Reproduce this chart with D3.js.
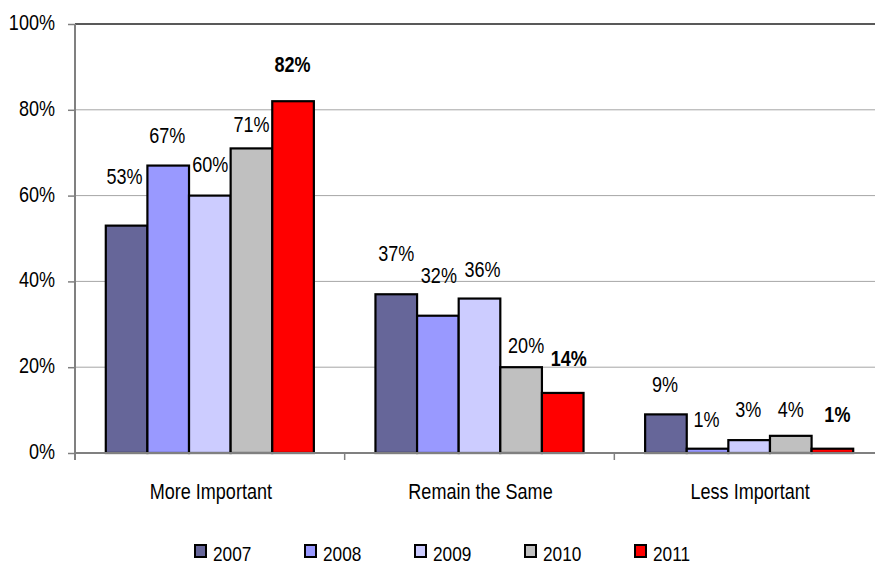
<!DOCTYPE html>
<html>
<head>
<meta charset="utf-8">
<script src="https://cdn.jsdelivr.net/npm/d3@7/dist/d3.min.js"></script>
<style>
  html, body { margin: 0; padding: 0; background: #fff; }
  svg { display: block; }
  text { font-family: "Liberation Sans", Arial, sans-serif; fill: #000; }
</style>
</head>
<body>
<svg id="chart" width="875" height="564"></svg>
<script>
// Survey answers by year (share of respondents, %)
const categories = ["More Important", "Remain the Same", "Less Important"];
const years = ["2007", "2008", "2009", "2010", "2011"];
const values2007 = [53, 37, 9];
const values2008 = [67, 32, 1];
const values2009 = [60, 36, 3];
const values2010 = [71, 20, 4];
const values2011 = [82, 14, 1];
const yTicks = [0, 20, 40, 60, 80, 100];

const seriesValues = [values2007, values2008, values2009, values2010, values2011];
const colors = ["#666699", "#9999FF", "#CCCCFF", "#C0C0C0", "#FF0000"];
const boldYear = "2011";

// Hand-placed label nudges [dx, gap above bar top], per category then per year
const labelNudge = [
  [[-2, 42], [-1, 22.5], [0.5, 24], [0, 16], [-0.5, 29]],
  [[0, 33], [1, 33], [3, 22], [5, 14], [6, 27]],
  [[-1, 22], [-1, 22], [-1, 23], [0, 19], [5, 27]]
];

// Narrow look: regular sans squeezed horizontally
const NARROW = 0.82;
const FONT_SIZE = 22;
function place(sel, fx, fy) {
  sel.attr("transform", (d, i) => `translate(${fx(d, i)},${fy(d, i)}) scale(${NARROW},1)`)
     .attr("font-size", FONT_SIZE);
}

const svg = d3.select("#chart");
const margin = { left: 75, top: 24 };
const plotBottom = 453;
const plotRight = 884;

const x0 = d3.scaleBand().domain(categories).range([margin.left, plotRight]).padding(0);
const x1 = d3.scaleBand().domain(years).range([0, x0.bandwidth()]).paddingInner(0).paddingOuter(0.74);
const y = d3.scaleLinear().domain([0, 100]).range([plotBottom, margin.top]);

// Gridlines
svg.append("g")
  .selectAll("line")
  .data(yTicks.filter(t => t > 0))
  .join("line")
  .attr("x1", margin.left).attr("x2", 875)
  .attr("y1", d => y(d)).attr("y2", d => y(d))
  .attr("stroke", d => d === 100 ? "#222" : "#a6a6a6")
  .attr("stroke-width", d => d === 100 ? 1.5 : 1);

// Y axis
const yAxis = svg.append("g")
  .attr("transform", `translate(${margin.left},0)`)
  .call(d3.axisLeft(y).tickValues(yTicks).tickSize(7).tickPadding(20).tickFormat(d => d + "%"));
yAxis.select(".domain").attr("stroke", "#808080").attr("stroke-width", 2)
  .attr("d", `M0,${y(100)}V${plotBottom + 7}`);
yAxis.selectAll(".tick line").attr("stroke", "#808080").attr("stroke-width", 1.5);
yAxis.selectAll(".tick text")
  .attr("x", null).attr("dy", null)
  .attr("fill", "#111")
  .call(place, () => -20, () => 5.5);

// Bars
const groups = svg.append("g")
  .selectAll("g")
  .data(categories)
  .join("g")
  .attr("transform", d => `translate(${x0(d)},0)`);

const cells = (c, ci) => years.map((yr, si) => ({ yr, si, ci, v: seriesValues[si][ci] }));

groups.selectAll("rect")
  .data(cells)
  .join("rect")
  .attr("x", d => x1(d.yr))
  .attr("y", d => y(d.v))
  .attr("width", x1.bandwidth())
  .attr("height", d => plotBottom - y(d.v))
  .attr("fill", d => colors[d.si])
  .attr("stroke", "#000")
  .attr("stroke-width", 2.2);

// X axis
const xAxisG = svg.append("g");
xAxisG.append("line")
  .attr("x1", margin.left).attr("x2", 875)
  .attr("y1", plotBottom).attr("y2", plotBottom)
  .attr("stroke", "#808080").attr("stroke-width", 2);
xAxisG.selectAll("line.tick")
  .data(categories.map(c => x0(c)).concat([plotRight]))
  .join("line")
  .attr("class", "tick")
  .attr("x1", d => d).attr("x2", d => d)
  .attr("y1", plotBottom).attr("y2", plotBottom + 7)
  .attr("stroke", "#808080").attr("stroke-width", 1.5);
xAxisG.selectAll("text")
  .data(categories)
  .join("text")
  .attr("text-anchor", "middle")
  .attr("fill", "#111")
  .text(d => d)
  .call(place, d => x0(d) + x0.bandwidth() / 2 + 1, () => 499);

// Value labels
groups.selectAll("text")
  .data(cells)
  .join("text")
  .attr("text-anchor", "middle")
  .attr("font-weight", d => d.yr === boldYear ? "bold" : "normal")
  .text(d => d.v + "%")
  .call(place,
        d => x1(d.yr) + x1.bandwidth() / 2 + labelNudge[d.ci][d.si][0],
        d => y(d.v) - labelNudge[d.ci][d.si][1]);

// Legend
const legend = svg.append("g")
  .selectAll("g")
  .data(years)
  .join("g")
  .attr("transform", (d, i) => `translate(${195 + i * 110},545)`);
legend.append("rect")
  .attr("width", 11).attr("height", 12)
  .attr("fill", (d, i) => colors[i])
  .attr("stroke", "#000").attr("stroke-width", 2);
legend.append("text")
  .attr("fill", "#111")
  .text(d => d)
  .call(place, () => 18, () => 16);
legend.selectAll("text").attr("font-size", 21);
</script>
</body>
</html>
